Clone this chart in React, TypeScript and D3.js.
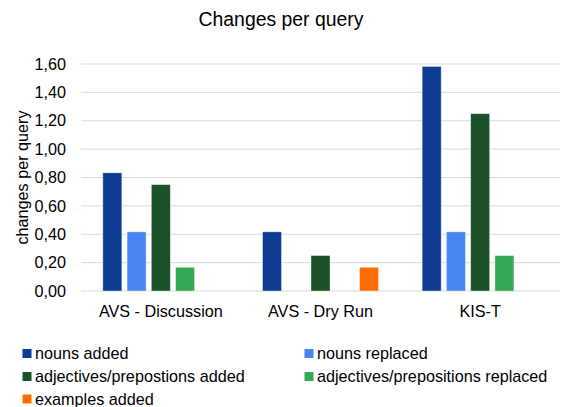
import React from "react";
import * as d3 from "d3";

const categories = ["AVS - Discussion", "AVS - Dry Run", "KIS-T"];
const seriesNames = [
  "nouns added",
  "nouns replaced",
  "adjectives/prepostions added",
  "adjectives/prepositions replaced",
  "examples added",
];
const seriesColors = ["#0c3b91", "#4586f4", "#1b5229", "#35a853", "#ff6d01"];
const nounsAdded = [0.833, 0.417, 1.583];
const nounsReplaced = [0.417, 0, 0.417];
const adjAdded = [0.75, 0.25, 1.25];
const adjReplaced = [0.167, 0, 0.25];
const examplesAdded = [0, 0.167, 0];
const yTicks = [0, 0.2, 0.4, 0.6, 0.8, 1.0, 1.2, 1.4, 1.6];

const W = 566;
const H = 407;
const m = { left: 81, right: 6, top: 64, bottom: 116 };

export default function App() {
  const values = [nounsAdded, nounsReplaced, adjAdded, adjReplaced, examplesAdded];
  const x0 = d3.scaleBand().domain(categories).range([m.left, W - m.right]);
  const x1 = d3
    .scaleBand()
    .domain(seriesNames)
    .range([0, x0.bandwidth()])
    .paddingInner(0.215)
    .paddingOuter(0.9);
  const y = d3.scaleLinear().domain([0, 1.6]).range([H - m.bottom, m.top]);
  const fmt = (v: number) => v.toFixed(2).replace(".", ",");
  const font = "'Liberation Sans', Arial, sans-serif";
  const fs = 16.2;
  const legendPos = [
    [22.5, 353.5],
    [304.5, 353.5],
    [22.5, 376.5],
    [304.5, 376.5],
    [22.5, 399],
  ];
  return (
    <svg width={W} height={H} style={{ position: "absolute", left: 0, top: 0 }} fontFamily={font}>
      <rect width={W} height={H} fill="#fff" />
      <text x={281} y={26} textAnchor="middle" fontSize={19.4} fill="#000">
        Changes per query
      </text>
      {yTicks.map((t) => (
        <g key={t}>
          <line x1={m.left} x2={W - m.right} y1={y(t)} y2={y(t)} stroke="#d9d9d9" strokeWidth={1} />
          <text x={66} y={y(t)} dy="0.35em" textAnchor="end" fontSize={fs} fill="#000">
            {fmt(t)}
          </text>
        </g>
      ))}
      <text
        transform={`translate(22,${(y(0) + y(1.6)) / 2}) rotate(-90)`}
        textAnchor="middle"
        dy="0.35em"
        fontSize={fs}
        fill="#000"
      >
        changes per query
      </text>
      {categories.map((c, ci) => (
        <g key={c}>
          {seriesNames.map((s, si) => {
            const v = values[si][ci];
            if (!v) return null;
            return (
              <rect
                key={s}
                x={x0(c)! + x1(s)!}
                y={y(v)}
                width={x1.bandwidth()}
                height={y(0) - y(v)}
                fill={seriesColors[si]}
                stroke="#ffffff"
                strokeOpacity={0.5}
                strokeWidth={0.8}
              />
            );
          })}
          <text x={x0(c)! + x0.bandwidth() / 2} y={316.5} textAnchor="middle" fontSize={fs} fill="#000">
            {c}
          </text>
        </g>
      ))}
      {seriesNames.map((s, si) => (
        <g key={s}>
          <rect x={legendPos[si][0]} y={legendPos[si][1] - 4.5} width={9} height={9} fill={seriesColors[si]} />
          <text x={legendPos[si][0] + 12.5} y={legendPos[si][1]} dy="0.35em" fontSize={fs} fill="#000">
            {s}
          </text>
        </g>
      ))}
    </svg>
  );
}
